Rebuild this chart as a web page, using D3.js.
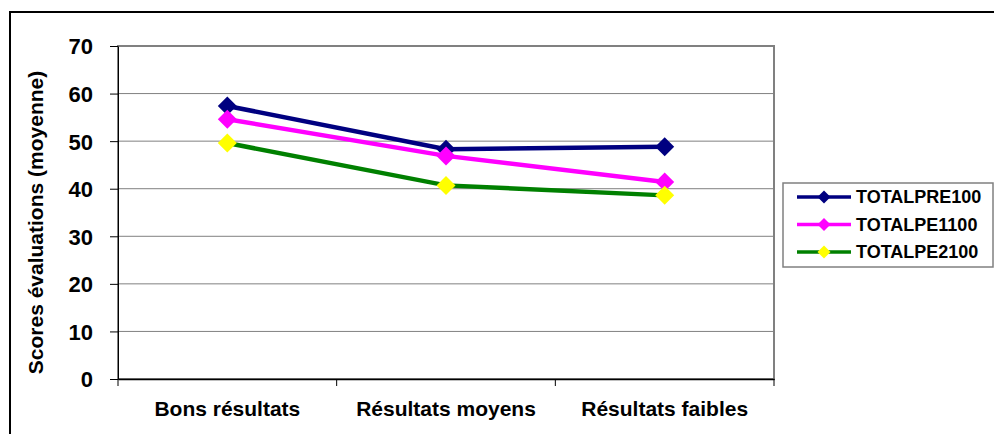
<!DOCTYPE html>
<html>
<head>
<meta charset="utf-8">
<script src="https://cdn.jsdelivr.net/npm/d3@7"></script>
<style>
body { margin: 0; background: #fff; }
svg { display: block; font-family: "Liberation Sans", Arial, sans-serif; }
</style>
</head>
<body>
<div id="chart-container"></div>
<script>
const width = 994;
const height = 434;

const categories = ["Bons résultats", "Résultats moyens", "Résultats faibles"];
const seriesNames = ["TOTALPRE100", "TOTALPE1100", "TOTALPE2100"];
const pre100 = [57.4, 48.3, 48.8];
const pe1100 = [54.6, 46.9, 41.4];
const pe2100 = [49.6, 40.7, 38.6];
const yTicks = [0, 10, 20, 30, 40, 50, 60, 70];

const lineColors = ["#000080", "#ff00ff", "#008000"];
const markerColors = ["#000080", "#ff00ff", "#ffff00"];
const seriesValues = [pre100, pe1100, pe2100];

const plot = { left: 118, top: 46, right: 774, bottom: 379 };

const svg = d3
	.select("#chart-container")
	.append("svg")
	.attr("width", width)
	.attr("height", height);

// outer frame
svg.append("rect")
	.attr("x", 10)
	.attr("y", 12)
	.attr("width", 1000)
	.attr("height", 500)
	.attr("fill", "none")
	.attr("stroke", "#000")
	.attr("stroke-width", 2);

const x = d3
	.scaleBand()
	.domain(categories)
	.range([plot.left, plot.right]);

const y = d3
	.scaleLinear()
	.domain([0, 70])
	.range([plot.bottom, plot.top]);

// gridlines
svg.append("g")
	.selectAll("line")
	.data(yTicks.filter((d) => d > 0))
	.join("line")
	.attr("x1", plot.left)
	.attr("x2", plot.right)
	.attr("y1", (d) => y(d))
	.attr("y2", (d) => y(d))
	.attr("stroke", "#808080")
	.attr("stroke-width", 1);

// plot border
svg.append("rect")
	.attr("x", plot.left)
	.attr("y", plot.top)
	.attr("width", plot.right - plot.left)
	.attr("height", plot.bottom - plot.top)
	.attr("fill", "none")
	.attr("stroke", "#808080")
	.attr("stroke-width", 2);

// y axis
const yAxis = svg
	.append("g")
	.attr("transform", `translate(${plot.left},0)`)
	.call(d3.axisLeft(y).tickValues(yTicks).tickSize(8).tickPadding(17).tickSizeOuter(0));

yAxis.select(".domain").attr("stroke", "#000").attr("stroke-width", 1);
yAxis.selectAll(".tick line").attr("stroke", "#000");
yAxis.selectAll(".tick text")
	.attr("fill", "#000")
	.attr("dy", "0.36em")
	.style("font-size", "22px")
	.style("font-weight", "bold")
	.style("font-family", "Liberation Sans, Arial, sans-serif");

// x axis
const xAxis = svg
	.append("g")
	.attr("transform", `translate(0,${plot.bottom})`)
	.call(d3.axisBottom(x).tickSize(0).tickPadding(22));

xAxis.select(".domain").attr("stroke", "#000").attr("stroke-width", 1.5);
xAxis.selectAll(".tick text")
	.attr("fill", "#000")
	.style("font-size", "21px")
	.style("font-weight", "bold")
	.style("font-family", "Liberation Sans, Arial, sans-serif");

// category separators
const bounds = [plot.left].concat(categories.map((c) => x(c) + x.bandwidth()));
svg.append("g")
	.selectAll("line")
	.data(bounds)
	.join("line")
	.attr("x1", (d) => d)
	.attr("x2", (d) => d)
	.attr("y1", plot.bottom)
	.attr("y2", plot.bottom + 7)
	.attr("stroke", "#000");

// y axis title
svg.append("text")
	.attr("transform", `translate(43,${(plot.top + plot.bottom) / 2 + 10}) rotate(-90)`)
	.attr("text-anchor", "middle")
	.style("font-size", "21px")
	.style("font-weight", "bold")
	.text("Scores évaluations (moyenne)");

const line = d3
	.line()
	.x((d, i) => x(categories[i]) + x.bandwidth() / 2)
	.y((d) => y(d));

const diamond = (r) => `M0,${-r}L${r},0L0,${r}L${-r},0Z`;

seriesValues.forEach((vals, s) => {
	svg.append("path")
		.datum(vals)
		.attr("fill", "none")
		.attr("stroke", lineColors[s])
		.attr("stroke-width", 4.5)
		.attr("d", line);
});

seriesValues.forEach((vals, s) => {
	svg.append("g")
		.selectAll("path")
		.data(vals)
		.join("path")
		.attr("transform", (d, i) => `translate(${x(categories[i]) + x.bandwidth() / 2},${y(d)})`)
		.attr("d", diamond(9.5))
		.attr("fill", markerColors[s]);
});

// legend
const legend = svg.append("g").attr("transform", "translate(783,183)");
legend.append("rect")
	.attr("width", 210)
	.attr("height", 84)
	.attr("fill", "#fff")
	.attr("stroke", "#808080")
	.attr("stroke-width", 1.5);

const items = legend
	.selectAll("g.item")
	.data(seriesNames)
	.join("g")
	.attr("class", "item")
	.attr("transform", (d, i) => `translate(0,${14 + i * 27.5})`);

items.append("line")
	.attr("x1", 14)
	.attr("x2", 68)
	.attr("stroke", (d, i) => lineColors[i])
	.attr("stroke-width", 3.5);

items.append("path")
	.attr("transform", "translate(41,0)")
	.attr("d", diamond(6.5))
	.attr("fill", (d, i) => markerColors[i]);

items.append("text")
	.attr("x", 73)
	.attr("dy", "0.36em")
	.style("font-size", "18px")
	.style("font-weight", "bold")
	.text((d) => d);
</script>
</body>
</html>
